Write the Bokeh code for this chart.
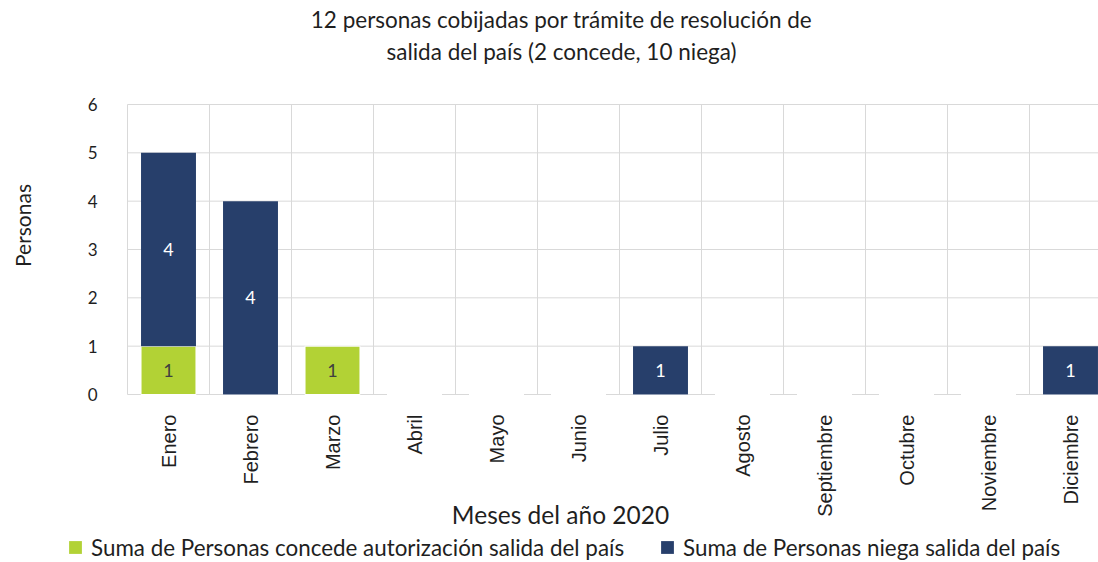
import math
from bokeh.plotting import figure
from bokeh.models import (FixedTicker, Label, Legend, LegendItem, ColumnDataSource, Range1d)
from bokeh.core.properties import value
from bokeh.embed import file_html
from bokeh.resources import INLINE

months = ["Enero", "Febrero", "Marzo", "Abril", "Mayo", "Junio", "Julio",
          "Agosto", "Septiembre", "Octubre", "Noviembre", "Diciembre"]
concede = [1, 0, 1, 0, 0, 0, 0, 0, 0, 0, 0, 0]
niega = [4, 4, 0, 0, 0, 0, 1, 0, 0, 0, 0, 1]
y_ticks = [0, 1, 2, 3, 4, 5, 6]

title_lines = ["12 personas cobijadas por trámite de resolución de",
               "salida del país (2 concede, 10 niega)"]
x_title = "Meses del año 2020"
y_title = "Personas"
legend_labels = ["Suma de Personas concede autorización salida del país",
                 "Suma de Personas niega salida del país"]

GREEN = "#B2D235"
NAVY = "#273F6B"
GRID = "#D9D9D9"
TXT = "#1f1f1f"
FONT = "Lato"

# page geometry (pixels)
W, H = 1098, 562
X0_PX, Y0_PX = 127, 394      # where x=0, y=0 land on the canvas
COL_PX = 82                  # width of one month column
UNIT_PX = 290 / 6            # pixels per person

xc = [i + 0.5 for i in range(len(months))]
top_n = [c + n for c, n in zip(concede, niega)]
src = ColumnDataSource(dict(x=xc, c=concede, bn=concede, tn=top_n))

p = figure(width=W, height=H, output_backend="svg", toolbar_location=None,
           x_range=Range1d(-X0_PX / COL_PX, (W - X0_PX) / COL_PX),
           y_range=Range1d(-(H - Y0_PX) / UNIT_PX, Y0_PX / UNIT_PX),
           min_border=0, min_border_left=0, min_border_right=0,
           min_border_top=0, min_border_bottom=0)
p.title.visible = False
p.outline_line_color = None
p.background_fill_color = "white"
p.border_fill_color = "white"
p.xgrid.visible = False
p.ygrid.visible = False

# grid lines limited to the plot area
n_cols = len(months)
p.segment(x0=list(range(n_cols + 1)), x1=list(range(n_cols + 1)),
          y0=[0] * (n_cols + 1), y1=[max(y_ticks)] * (n_cols + 1),
          line_color=GRID, line_width=1)
p.segment(x0=[0] * len(y_ticks), x1=[n_cols] * len(y_ticks),
          y0=y_ticks, y1=y_ticks, line_color=GRID, line_width=1)

rg = p.vbar(x="x", width=0.67, bottom=0, top="c", source=src,
            fill_color=GREEN, line_color="white", line_width=1)
rn = p.vbar(x="x", width=0.67, bottom="bn", top="tn", source=src,
            fill_color=NAVY, line_color=None)

# data labels
lg = dict(x=[x for x, c in zip(xc, concede) if c > 0],
          y=[c / 2 for c in concede if c > 0],
          t=[str(c) for c in concede if c > 0])
ln = dict(x=[x for x, n in zip(xc, niega) if n > 0],
          y=[c + n / 2 for c, n in zip(concede, niega) if n > 0],
          t=[str(n) for n in niega if n > 0])
p.text(x="x", y="y", text="t", source=ColumnDataSource(lg), text_align="center",
       text_baseline="middle", text_font=value(FONT), text_font_size="18px",
       text_color="#404040")
p.text(x="x", y="y", text="t", source=ColumnDataSource(ln), text_align="center",
       text_baseline="middle", text_font=value(FONT), text_font_size="18px",
       text_color="white")

# axes fixed at the data origin
xa = p.xaxis[0]
xa.fixed_location = 0
xa.ticker = FixedTicker(ticks=xc)
xa.major_label_overrides = {x: m for x, m in zip(xc, months)}
xa.major_label_orientation = math.pi / 2
xa.major_label_text_font = "Liberation Sans"
xa.major_label_text_font_size = "20px"
xa.major_label_text_color = TXT
xa.major_label_standoff = 14
xa.axis_line_color = None
xa.major_tick_line_color = None
xa.minor_tick_line_color = None

ya = p.yaxis[0]
ya.fixed_location = 0
ya.ticker = FixedTicker(ticks=y_ticks)
ya.major_label_text_font = FONT
ya.major_label_text_font_size = "17px"
ya.major_label_text_color = TXT
ya.major_label_standoff = 24
ya.axis_line_color = None
ya.major_tick_line_color = None
ya.minor_tick_line_color = None

def add_label(text, x_px, y_px, size, angle=0.0):
    p.add_layout(Label(x=x_px, y=H - y_px, x_units="screen", y_units="screen",
                       text=text, angle=angle, text_align="center",
                       text_baseline="middle", text_font=FONT,
                       text_font_size=size, text_color=TXT))

add_label(title_lines[0], 561, 19, "22.5px")
add_label(title_lines[1], 561, 50.5, "22.5px")
add_label(x_title, 560, 514, "24.5px")
add_label(y_title, 22, 225, "21px", angle=math.pi / 2)

# legend swatches: zero-size square markers on the series' own points
sg = p.scatter(x="x", y="c", source=src, size=0, marker="square",
               fill_color=GREEN, line_color=None)
sn = p.scatter(x="x", y="tn", source=src, size=0, marker="square",
               fill_color=NAVY, line_color=None)

BOX = 32
for r, lab, x_left in ((sg, legend_labels[0], 59), (sn, legend_labels[1], 651)):
    leg = Legend(items=[LegendItem(label=lab, renderers=[r])],
                 location=(x_left, H - (547 + BOX / 2)),
                 orientation="horizontal", padding=0, margin=0, spacing=0,
                 glyph_width=BOX, glyph_height=BOX, label_standoff=0,
                 label_height=BOX, label_text_baseline="middle",
                 label_text_font=FONT, label_text_font_size="22.4px",
                 label_text_color=TXT, border_line_color=None,
                 background_fill_alpha=0)
    p.add_layout(leg, "center")

open("out.html", "w").write(file_html(p, INLINE))
